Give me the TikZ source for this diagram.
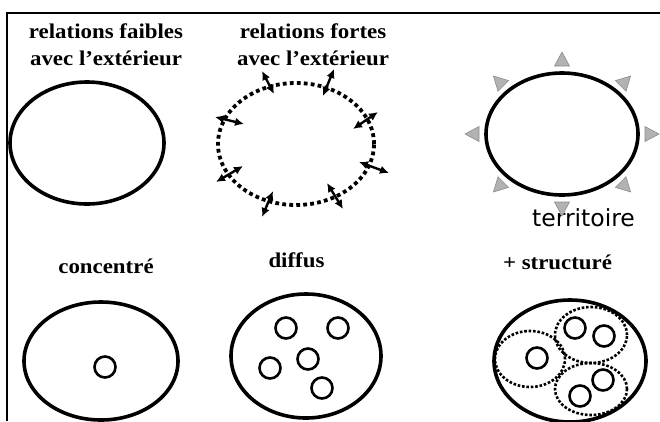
\documentclass[tikz,border=0pt]{standalone}
\usepackage{fontspec}
\setmainfont{Liberation Serif}
\newfontfamily\terrfont{DejaVu Sans}
\usetikzlibrary{arrows.meta}

\tikzset{
  titre/.style={font=\fontsize{21}{27}\selectfont\bfseries, xscale=1.09, align=center, inner sep=0pt},
  contour/.style={line width=3.6pt},
  pointille/.style={line width=3.8pt, dash pattern=on 3.8pt off 3.2pt},
  groupe/.style={line width=2.6pt, dash pattern=on 2.6pt off 1.8pt},
  noyau/.style={line width=2.6pt},
  echange/.style={line width=2.4pt, <->, >={Latex[length=9pt,width=8.5pt]}},
  fleche/.style={fill=black!30, draw=black!45, line width=0.6pt},
}

\begin{document}
\begin{tikzpicture}[x=1pt, y=1pt]
    \useasboundingbox (0,0) rectangle (660,-421);

    % Cadre
    \draw[line width=2.6pt] (7,-421) -- (7,-13) -- (660,-13);

    % Centres des ensembles
    \coordinate (Faible) at (87,-143);
    \coordinate (Forte) at (296,-144);
    \coordinate (Terr) at (562,-134);
    \coordinate (Conc) at (101,-361);
    \coordinate (Diff) at (306,-356);
    \coordinate (Struct) at (570,-361);

    % Titres
    \node[titre] (tFaible) at (106,-45) {relations faibles\\avec l’extérieur};
    \node[titre] (tForte) at (313,-45) {relations fortes\\avec l’extérieur};
    \node[titre, anchor=base] (tConc) at (106,-273) {concentré};
    \node[titre, anchor=base] (tDiff) at (296.5,-267) {diffus};
    \node[titre, anchor=base] (tStruct) at (557.5,-269) {+ structuré};

    % Relations faibles
    \draw[contour] (Faible) ellipse (77 and 61);

    % Relations fortes
    \draw[pointille] (Forte) ellipse (78 and 61);
    \foreach \xa/\ya/\xb/\yb in {262/71/274/94, 334/69/323/96, 215/117/244/124,
        378/112/353/129, 216/182/243/166, 359/162/389/173, 273/191/262/217,
        327/183/343/209}
      \draw[echange] (\xa,-\ya) -- (\xb,-\yb);

    % Territoire
    \draw[contour] (Terr) ellipse (76 and 61);
    \node[font=\terrfont\fontsize{23.5}{28}\selectfont, anchor=base, inner sep=0pt] (tTerr) at (583.5,-226) {territoire};
    \foreach \a in {0,45,...,315}
      \filldraw[fleche, shift={(Terr)}, shift={(\a:90 and 75)}, rotate=\a]
        (7,0) -- (-7,7.5) -- (-7,-7.5) -- cycle;

    % Concentre
    \draw[contour] (Conc) ellipse (77 and 59);
    \draw[noyau] (105,-367) circle (10.5);

    % Diffus
    \draw[contour] (Diff) ellipse (75 and 62);
    \foreach \p in {(286,-328), (338,-328), (270,-368), (308,-359), (322,-388)}
      \draw[noyau] \p circle (10.5);

    % Structure
    \draw[contour] (Struct) ellipse (76 and 61);
    \draw[groupe] (530,-359) ellipse (35 and 28);
    \draw[groupe] (591,-335) ellipse (36 and 28);
    \draw[groupe] (591,-389) ellipse (36 and 26);
    \foreach \p in {(537,-358), (575,-328), (604,-336), (603,-380), (580,-396)}
      \draw[noyau] \p circle (10.5);
\end{tikzpicture}
\end{document}
